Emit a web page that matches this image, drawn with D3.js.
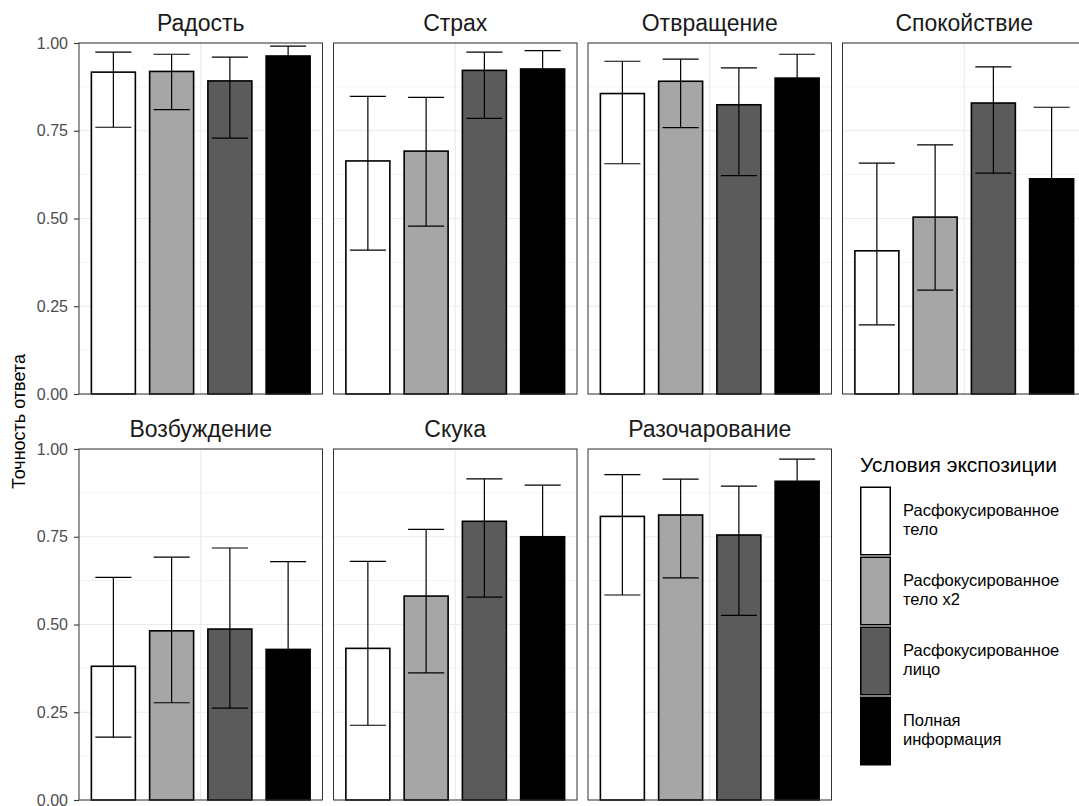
<!DOCTYPE html>
<html>
<head>
<meta charset="utf-8">
<script src="https://cdn.jsdelivr.net/npm/d3@7"></script>
<style>
  body { margin: 0; background: #fff; }
  svg { display: block; font-family: "Liberation Sans", Arial, sans-serif; }
</style>
</head>
<body>
<div id="chart"></div>
<script>
// emotions (facets) and exposure conditions
const emotions = ["Радость", "Страх", "Отвращение", "Спокойствие", "Возбуждение", "Скука", "Разочарование"];
const conditions = ["Расфокусированное тело", "Расфокусированное тело x2", "Расфокусированное лицо", "Полная информация"];
const conditionLines = [["Расфокусированное", "тело"], ["Расфокусированное", "тело x2"], ["Расфокусированное", "лицо"], ["Полная", "информация"]];
const fills = ["#ffffff", "#a6a6a6", "#5b5b5b", "#000000"];

// mean accuracy per emotion, one array per condition
const meanBody  = [0.917, 0.664, 0.856, 0.408, 0.381, 0.432, 0.808];
const meanBody2 = [0.919, 0.692, 0.891, 0.504, 0.482, 0.581, 0.812];
const meanFace  = [0.892, 0.922, 0.824, 0.829, 0.487, 0.794, 0.755];
const meanFull  = [0.963, 0.926, 0.900, 0.613, 0.429, 0.750, 0.908];

// confidence intervals
const lowBody   = [0.760, 0.410, 0.656, 0.197, 0.179, 0.213, 0.584];
const highBody  = [0.974, 0.848, 0.948, 0.658, 0.634, 0.680, 0.927];
const lowBody2  = [0.810, 0.478, 0.759, 0.296, 0.277, 0.362, 0.633];
const highBody2 = [0.968, 0.845, 0.954, 0.710, 0.692, 0.771, 0.914];
const lowFace   = [0.729, 0.785, 0.622, 0.629, 0.262, 0.578, 0.526];
const highFace  = [0.960, 0.974, 0.929, 0.932, 0.718, 0.915, 0.894];
const lowFull   = [0.920, 0.860, 0.820, 0.400, 0.190, 0.580, 0.830];
const highFull  = [0.991, 0.978, 0.968, 0.817, 0.679, 0.897, 0.971];

const yTicks = [0, 0.25, 0.5, 0.75, 1];
const yMinor = [0.125, 0.375, 0.625, 0.875];

const means = [meanBody, meanBody2, meanFace, meanFull];
const lows = [lowBody, lowBody2, lowFace, lowFull];
const highs = [highBody, highBody2, highFace, highFull];

const width = 1079, height = 806;
const left0 = 79, pw = 243.5, gap = 11;
const rowTop = [43, 449], ph = 351;

const svg = d3.select("#chart").append("svg")
  .attr("width", width)
  .attr("height", height);

const y = d3.scaleLinear().domain([0, 1]).range([ph, 0]);
const x = d3.scaleBand()
  .domain(conditions)
  .range([pw / 2 - 116.5, pw / 2 + 116.5])
  .paddingInner(0.245)
  .paddingOuter(0.1225);
const capW = x.bandwidth() * 0.82;

emotions.forEach((emo, i) => {
  const row = Math.floor(i / 4), col = i % 4;
  const g = svg.append("g")
    .attr("transform", `translate(${left0 + col * (pw + gap)},${rowTop[row]})`);

  // grid
  g.selectAll(".minor").data(yMinor).join("line")
    .attr("x1", 0).attr("x2", pw)
    .attr("y1", d => y(d)).attr("y2", d => y(d))
    .attr("stroke", "#ebebeb").attr("stroke-width", 0.6);
  g.selectAll(".major").data(yTicks).join("line")
    .attr("x1", 0).attr("x2", pw)
    .attr("y1", d => y(d)).attr("y2", d => y(d))
    .attr("stroke", "#ebebeb").attr("stroke-width", 1.2);
  g.append("line")
    .attr("x1", pw / 2).attr("x2", pw / 2)
    .attr("y1", 0).attr("y2", ph)
    .attr("stroke", "#ebebeb").attr("stroke-width", 1.2);

  const data = conditions.map((c, k) => ({
    cond: c, fill: fills[k], mean: means[k][i], lo: lows[k][i], hi: highs[k][i]
  }));

  // bars
  g.selectAll(".bar").data(data).join("rect")
    .attr("x", d => x(d.cond))
    .attr("width", x.bandwidth())
    .attr("y", d => y(d.mean))
    .attr("height", d => y(0) - y(d.mean))
    .attr("fill", d => d.fill)
    .attr("stroke", "#000")
    .attr("stroke-width", 1.6);

  // error bars
  const eb = g.selectAll(".eb").data(data).join("g")
    .attr("transform", d => `translate(${x(d.cond) + x.bandwidth() / 2},0)`)
    .attr("stroke", "#000").attr("stroke-width", 1.2);
  eb.append("line").attr("y1", d => y(d.lo)).attr("y2", d => y(d.hi));
  eb.append("line").attr("x1", -capW / 2).attr("x2", capW / 2)
    .attr("y1", d => y(d.hi)).attr("y2", d => y(d.hi));
  eb.append("line").attr("x1", -capW / 2).attr("x2", capW / 2)
    .attr("y1", d => y(d.lo)).attr("y2", d => y(d.lo));

  // border
  g.append("rect")
    .attr("width", pw).attr("height", ph)
    .attr("fill", "none").attr("stroke", "#333").attr("stroke-width", 1);

  // strip title
  g.append("text")
    .attr("x", pw / 2).attr("y", -12)
    .attr("text-anchor", "middle")
    .attr("font-size", 23)
    .attr("fill", "#1a1a1a")
    .text(emo);

  if (col === 0) {
    const ax = g.append("g")
      .call(d3.axisLeft(y).tickValues(yTicks).tickFormat(d3.format(".2f")).tickSize(5).tickPadding(6));
    ax.select(".domain").remove();
    ax.selectAll(".tick line").attr("stroke", "#333").attr("stroke-width", 1.1);
    ax.selectAll(".tick text").attr("fill", "#4d4d4d").attr("font-size", 16)
      .attr("font-family", "Liberation Sans, Arial, sans-serif");
  }
});

// y-axis title
svg.append("text")
  .attr("transform", `translate(25,${(rowTop[0] + rowTop[1] + ph) / 2}) rotate(-90)`)
  .attr("text-anchor", "middle")
  .attr("font-size", 18)
  .attr("fill", "#000")
  .text("Точность ответа");

// legend
const lg = svg.append("g").attr("transform", "translate(860,0)");
lg.append("text")
  .attr("x", 0).attr("y", 472)
  .attr("font-size", 21)
  .attr("fill", "#000")
  .text("Условия экспозиции");
const keyTop = 486, keyH = 70, keyW = 31;
conditions.forEach((c, k) => {
  lg.append("rect")
    .attr("x", 0.75).attr("y", keyTop + k * keyH + 1.25)
    .attr("width", keyW - 1.5).attr("height", keyH - 2.5)
    .attr("fill", fills[k]).attr("stroke", "#000").attr("stroke-width", 1.5);
  const t = lg.append("text")
    .attr("x", 43).attr("y", keyTop + k * keyH + 30)
    .attr("font-size", 16.5)
    .attr("fill", "#000");
  conditionLines[k].forEach((line, j) => {
    t.append("tspan").attr("x", 43).attr("dy", j === 0 ? 0 : 19).text(line);
  });
});
</script>
</body>
</html>
